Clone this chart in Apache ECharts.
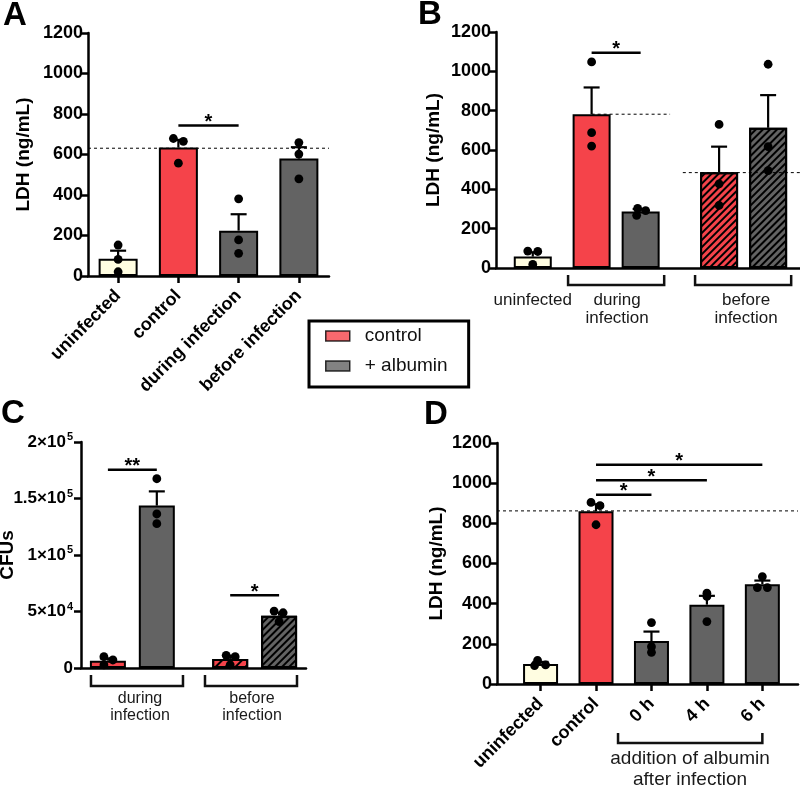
<!DOCTYPE html>
<html><head><meta charset="utf-8">
<script src="https://cdn.jsdelivr.net/npm/echarts@6/dist/echarts.min.js"></script>
<style>html,body{margin:0;padding:0;background:#fff}#c{width:800px;height:789px}</style>
</head><body><div id="c"></div>
<script>
// ================= DATA =================
// Panel A
const catsA = ['uninfected', 'control', 'during infection', 'before infection'];
const meanA = [85, 634, 224, 580];
const semTopA = [125, 672, 305, 636];
const ptsA = [[153, 82, 21], [679, 665, 557], [381, 178, 112], [659, 602, 480]];
const refA = [631];
const sigPairsA = [[1, 2]];
const sigHeightA = [743];
const sigTextA = ['*'];

// Panel B
const groupsB = ['uninfected', 'during\ninfection', 'before\ninfection'];
const meanB = [58, 782, 287, 487, 713];
const semTopB = [80, 918, 300, 617, 879];
const ptsB = [[86, 84, 18], [1048, 688, 620], [303, 292, 268], [730, 428, 318], [1036, 617, 495]];
const refB = [782, 485];
const sigPairsB = [[1, 2]];
const sigHeightB = [1095];
const sigTextB = ['*'];

// Panel C
const groupsC = ['during\ninfection', 'before\ninfection'];
const meanC = [6500, 143700, 8000, 46300];
const semTopC = [8500, 156300, 10900, 49000];
const ptsC = [[10000, 7100, 2700], [167500, 136300, 127700], [11200, 10000, 2700], [50400, 48900, 41000]];
const tickValuesC = [0, 50000, 100000, 150000, 200000];
const tickLabelsC = ['{n|0}', '{n|5×10}{s|4}', '{n|1×10}{s|5}', '{n|1.5×10}{s|5}', '{n|2×10}{s|5}'];
const sigPairsC = [[0, 1], [2, 3]];
const sigHeightC = [175500, 64300];
const sigTextC = ['**', '*'];

// Panel D
const catsD = ['uninfected', 'control', '0 h', '4 h', '6 h'];
const groupD = ['addition of albumin', 'after infection'];
const meanD = [100, 860, 214, 395, 497];
const semTopD = [110, 895, 261, 439, 515];
const ptsD = [[118, 92, 95], [904, 888, 793], [306, 186, 158], [452, 436, 311], [535, 480, 480]];
const refD = [862];
const sigPairsD = [[1, 2], [1, 3], [1, 4]];
const sigHeightD = [942, 1014, 1092];
const sigTextD = ['*', '*', '*'];

const legendNames = ['control', '+ albumin'];

// ================= LAYOUT / STYLE =================
const RED = '#F5434A', GRAY = '#636363', CREAM = '#FFFDE1';
const FONT = 'Liberation Sans';

const panels = [
  { letter: 'A', letterPos: [3, 16],
    grid: {left: 88, top: 33, width: 241, height: 243},
    nSlots: 4, slots: [0, 1, 2, 3], labels: catsA, showX: true,
    mean: meanA, semTop: semTopA, pts: ptsA,
    off: [[0,0,0],[-5,5,0],[0,0,0],[0,0,0]],
    fill: [CREAM, RED, GRAY, GRAY], hatched: [0,0,0,0], barW: 39,
    yMax: 1200, yStep: 200, yName: 'LDH (ng/mL)', nameGap: 55,
    refs: [[-0.5, 3.5, refA[0]]],
    sig: [sigPairsA, sigHeightA, sigTextA],
    brackets: [], groupText: [], groupFont: 17 },
  { letter: 'B', letterPos: [418, 15],
    grid: {left: 496, top: 32, width: 304, height: 236},
    nSlots: 62, slots: [7, 19, 29, 45, 55], labels: null, showX: false,
    mean: meanB, semTop: semTopB, pts: ptsB,
    off: [[-5,5,0],[0,0,0],[-3,5,-4],[0,0,0],[0,0,0]],
    fill: [CREAM, RED, GRAY, RED, GRAY], hatched: [0,0,0,1,1], barW: 38,
    yMax: 1200, yStep: 200, yName: 'LDH (ng/mL)', nameGap: 53,
    refs: [[19, 35, refB[0]], [37.6, 61.5, refB[1]]],
    sig: [sigPairsB, sigHeightB, sigTextB],
    brackets: [[14.2, 33.8], [40.1, 59.7]], brY: 17, brTip: 10,
    groupText: [[7, groupsB[0]], [24.2, groupsB[1]], [50.5, groupsB[2]]], gtY: 32, gtLH: 18, groupFont: 17 },
  { letter: 'C', letterPos: [1, 414],
    grid: {left: 81, top: 442, width: 225, height: 226},
    nSlots: 46, slots: [5, 15, 30, 40], labels: null, showX: false,
    mean: meanC, semTop: semTopC, pts: ptsC,
    off: [[-4,5,-4],[0,0,0],[-4,5,0],[-5,4,0]],
    fill: [RED, GRAY, RED, GRAY], hatched: [0,0,2,1], barW: 36,
    yMax: 200000, yStep: 50000, yName: 'CFUs', nameGap: 64,
    customY: [tickValuesC, tickLabelsC],
    refs: [],
    sig: [sigPairsC, sigHeightC, sigTextC],
    brackets: [[1.54, 20.35], [24.85, 43.66]], brY: 18, brTip: 11,
    groupText: [[11.56, groupsC[0]], [34.46, groupsC[1]]], gtY: 31, gtLH: 17, groupFont: 16 },
  { letter: 'D', letterPos: [424, 415],
    grid: {left: 497, top: 443, width: 301, height: 241},
    nSlots: 38, slots: [5, 12, 19, 26, 33], labels: catsD, showX: true,
    mean: meanD, semTop: semTopD, pts: ptsD,
    off: [[-3,-6,5],[-5,4,0],[0,0,0],[0,0,0],[0,-5,5]],
    fill: [CREAM, RED, GRAY, GRAY, GRAY], hatched: [0,0,0,0,0], barW: 35,
    yMax: 1200, yStep: 200, yName: 'LDH (ng/mL)', nameGap: 51,
    refs: [[-0.5, 37.5, refD[0]]],
    sig: [sigPairsD, sigHeightD, sigTextD],
    brackets: [[14.78, 33]], brY: 59, brTip: 10,
    groupText: [[23.87, groupD.join('\n')]], gtY: 75, gtLH: 21, groupFont: 19 }
];

function hatch(kind) {
  if (kind === 2) return {symbol: 'rect', symbolSize: 1, dashArrayX: [1, 0], dashArrayY: [2, 4.5], rotation: -Math.PI / 4, color: '#000'};
  return {symbol: 'rect', symbolSize: 1, dashArrayX: [1, 0], dashArrayY: [1.3, 2.3], rotation: -Math.PI / 4, color: '#000'};
}

const chart = echarts.init(document.getElementById('c'), null, {renderer: 'canvas', width: 800, height: 789});

const grids = [], xAxes = [], yAxes = [], series = [];
panels.forEach((p, gi) => {
  grids.push(Object.assign({containLabel: false, outerBoundsMode: 'none'}, p.grid));
  const names = [];
  for (let i = 0; i < p.nSlots; i++) names.push('s' + i);
  const labeled = new Set();
  if (p.labels) p.slots.forEach((s, i) => { names[s] = p.labels[i]; labeled.add(s); });
  xAxes.push({
    type: 'category', gridIndex: gi, data: names, boundaryGap: true,
    axisLine: {lineStyle: {color: '#000', width: 2.5}},
    axisTick: {show: p.showX, alignWithLabel: true, length: 7, lineStyle: {color: '#000', width: 2.5},
      interval: (i) => labeled.has(i)},
    axisLabel: {show: p.showX, interval: (i) => labeled.has(i), rotate: 45, margin: 17,
      fontSize: 18, fontWeight: 'bold', color: '#000', fontFamily: FONT},
    splitLine: {show: false}
  });
  yAxes.push({
    type: 'value', gridIndex: gi, min: 0, max: p.yMax, interval: p.yStep,
    name: p.yName, nameLocation: 'middle', nameGap: p.nameGap, nameRotate: 90,
    nameTextStyle: {fontSize: 19, fontWeight: 'bold', color: '#000', fontFamily: FONT},
    axisLine: {show: true, lineStyle: {color: '#000', width: 2.5}},
    axisTick: {show: true, length: 7, lineStyle: {color: '#000', width: 2.5}},
    axisLabel: {show: !p.customY, fontSize: 18, fontWeight: 'bold', color: '#000', margin: 5, fontFamily: FONT,
      formatter: (v) => String(v)},
    splitLine: {show: false}
  });
  const barData = new Array(p.nSlots).fill('-');
  p.slots.forEach((s, i) => {
    const st = {color: p.fill[i]};
    if (p.hatched[i]) st.decal = hatch(p.hatched[i]);
    barData[s] = {value: p.mean[i], itemStyle: st};
  });
  series.push({
    type: 'bar', xAxisIndex: gi, yAxisIndex: gi, barWidth: p.barW, data: barData, z: 2, silent: true,
    itemStyle: {borderColor: '#000', borderWidth: 2}
  });
  series.push({
    type: 'custom', xAxisIndex: gi, yAxisIndex: gi, z: 3, silent: true,
    data: p.slots.map((s, i) => [s, p.mean[i], p.semTop[i]]),
    renderItem: (params, api) => {
      const b = api.coord([api.value(0), api.value(1)]);
      const t = api.coord([api.value(0), api.value(2)]);
      return {type: 'group', children: [
        {type: 'line', shape: {x1: b[0], y1: b[1], x2: t[0], y2: t[1]}, style: {stroke: '#000', lineWidth: 2.2}},
        {type: 'line', shape: {x1: t[0] - 8, y1: t[1], x2: t[0] + 8, y2: t[1]}, style: {stroke: '#000', lineWidth: 2.2}}
      ]};
    }
  });
  const dots = [];
  p.slots.forEach((s, i) => p.pts[i].forEach((v, j) => dots.push([s, v, p.off[i][j]])));
  series.push({
    type: 'custom', xAxisIndex: gi, yAxisIndex: gi, z: 4, silent: true, data: dots,
    renderItem: (params, api) => {
      const c = api.coord([api.value(0), api.value(1)]);
      return {type: 'circle', shape: {cx: c[0] + api.value(2), cy: c[1], r: 4.4}, style: {fill: '#000'}};
    }
  });
});
// legend-only series
series.push({type: 'scatter', name: legendNames[0], xAxisIndex: 0, yAxisIndex: 0, data: [], itemStyle: {color: RED}});
series.push({type: 'scatter', name: legendNames[1], xAxisIndex: 0, yAxisIndex: 0, data: [], itemStyle: {color: GRAY}});

chart.setOption({
  animation: false,
  backgroundColor: '#fff',
  textStyle: {fontFamily: FONT},
  grid: grids, xAxis: xAxes, yAxis: yAxes, series: series,
  legend: {
    orient: 'vertical', left: 309, top: 321, selectedMode: false,
    data: [
      {name: legendNames[0], icon: 'rect', itemStyle: {color: RED, borderColor: '#000', borderWidth: 1.5}},
      {name: legendNames[1], icon: 'rect', itemStyle: {color: GRAY, borderColor: '#000', borderWidth: 1.5}}
    ],
    itemWidth: 24, itemHeight: 10, itemGap: 10,
    borderColor: '#000', borderWidth: 3, padding: [5, 21, 11, 16],
    textStyle: {fontSize: 19, lineHeight: 20, color: '#111', fontFamily: FONT, padding: [0, 0, 0, 10]}
  }
});

// ================= ANNOTATIONS =================
function slotX(gi, s) {
  const a = chart.convertToPixel({gridIndex: gi}, [0, 0]);
  const b = chart.convertToPixel({gridIndex: gi}, [1, 0]);
  return a[0] + s * (b[0] - a[0]);
}
function valY(gi, v) { return chart.convertToPixel({gridIndex: gi}, [0, v])[1]; }

const gfx = [];
panels.forEach((p, gi) => {
  gfx.push({type: 'text', x: p.letterPos[0], y: p.letterPos[1], z: 100,
    style: {text: p.letter, fontSize: 33, fontWeight: 'bold', fontFamily: FONT, fill: '#000', verticalAlign: 'middle'}});
  const axisY = valY(gi, 0);
  if (p.customY) {
    const axisX = slotX(gi, -0.5);
    p.customY[0].forEach((v, k) => {
      gfx.push({type: 'text', z: 100, x: axisX - 8, y: valY(gi, v),
        style: {text: p.customY[1][k], align: 'right', verticalAlign: 'middle',
          rich: {
            n: {fontSize: 17, fontWeight: 'bold', fontFamily: FONT, fill: '#000', lineHeight: 21},
            s: {fontSize: 11, fontWeight: 'bold', fontFamily: FONT, fill: '#000', lineHeight: 21, verticalAlign: 'top', padding: [0, 0, 0, 1]}
          }}});
    });
  }
  p.refs.forEach(r => {
    const y = valY(gi, r[2]);
    gfx.push({type: 'line', z: 100, shape: {x1: slotX(gi, r[0]), y1: y, x2: slotX(gi, r[1]), y2: y},
      style: {stroke: '#000', lineWidth: 1, lineDash: [3, 3]}});
  });
  const [pairs, hs, txt] = p.sig;
  pairs.forEach((pr, k) => {
    const y = valY(gi, hs[k]);
    const x1 = slotX(gi, p.slots[pr[0]]), x2 = slotX(gi, p.slots[pr[1]]);
    gfx.push({type: 'line', z: 100, shape: {x1: x1, y1: y, x2: x2, y2: y}, style: {stroke: '#000', lineWidth: 2.5}});
    gfx.push({type: 'text', z: 100, x: (x1 + x2) / 2, y: y - 3,
      style: {text: txt[k], fontSize: 20, fontWeight: 'bold', fontFamily: FONT, fill: '#000', align: 'center', verticalAlign: 'middle'}});
  });
  p.brackets.forEach(b => {
    const x1 = slotX(gi, b[0]), x2 = slotX(gi, b[1]);
    const yb = axisY + p.brY, yt = yb - p.brTip;
    gfx.push({type: 'polyline', z: 100, shape: {points: [[x1, yt], [x1, yb], [x2, yb], [x2, yt]]},
      style: {stroke: '#111', lineWidth: 2.5, fill: null}});
  });
  p.groupText.forEach(g => {
    const x = slotX(gi, g[0]);
    g[1].split('\n').forEach((line, li) => {
      gfx.push({type: 'text', z: 100, x: x, y: axisY + p.gtY + li * p.gtLH,
        style: {text: line, fontSize: p.groupFont, fontFamily: FONT, fill: '#1a1a1a', align: 'center', verticalAlign: 'middle'}});
    });
  });
});
chart.setOption({graphic: {elements: gfx}});
</script></body></html>
